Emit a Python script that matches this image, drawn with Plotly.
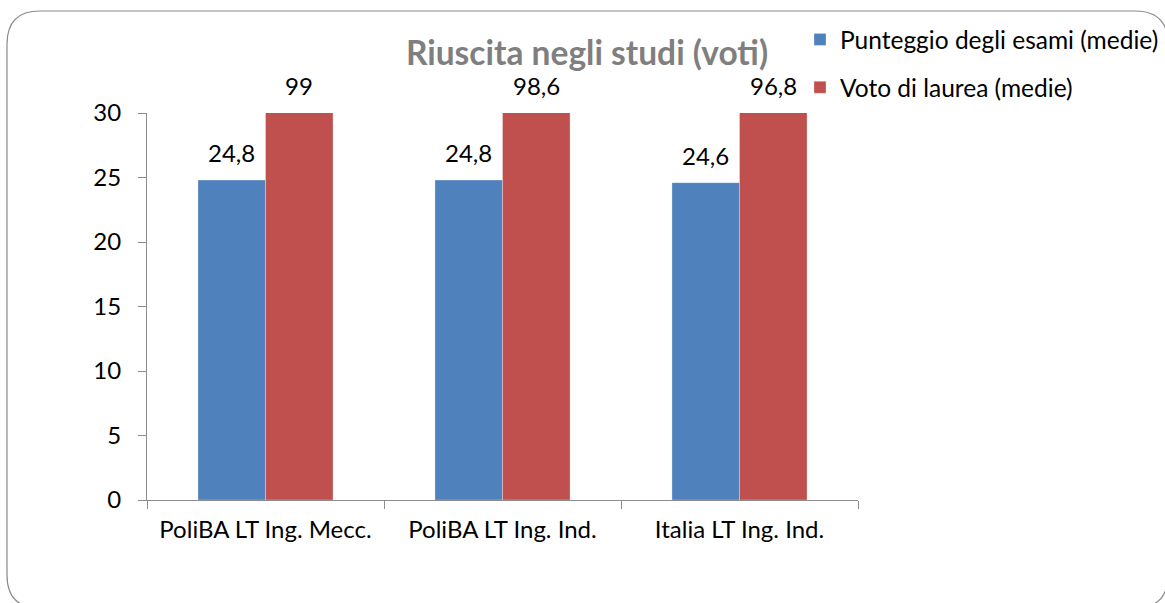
import plotly.graph_objects as go

# Data
categories = ["PoliBA LT Ing. Mecc.", "PoliBA LT Ing. Ind.", "Italia LT Ing. Ind."]
esami = [24.8, 24.8, 24.6]
laurea = [99, 98.6, 96.8]
series_names = ["Punteggio degli esami (medie)", "Voto di laurea (medie)"]
y_max = 30
y_step = 5

W, H = 1165, 603
L, R, T, B = 147, 307, 113, 103
PW, PH = W - L - R, H - T - B
BARGAP = 0.43

FONT = "Lato"
FS = 24
BLUE = "#4F81BD"
RED = "#C0504D"
AXIS = "#8C8C8C"


def fmt(v):
    return f"{v:g}".replace(".", ",")


def px_x(p):
    return (p - L) / PW


def px_y(p):
    return (H - B - p) / PH


fig = go.Figure()
for i, (vals, name, color) in enumerate(zip([esami, laurea], series_names, [BLUE, RED])):
    fig.add_bar(
        x=categories, y=vals, name=name, legendgroup=f"g{i}",
        marker=dict(color=color, line=dict(color="rgba(255,255,255,0.5)", width=0.6)),
    )

# Value labels sit on top of the visible (possibly clipped) bar
bar_px = PW / len(categories) * (1 - BARGAP) / 2
annotations = []
for side, vals in zip([-1, 1], [esami, laurea]):
    for c, v in zip(categories, vals):
        annotations.append(dict(
            x=c, y=min(v, y_max), xref="x", yref="y",
            xshift=side * bar_px / 2, yshift=11,
            text=fmt(v), showarrow=False, yanchor="bottom",
            font=dict(family=FONT, size=FS, color="black"),
        ))

# Rounded chart frame
x0, y0, x1, y1, r = px_x(7), px_y(11), px_x(1168), px_y(608), 33
rx, ry = r / PW, r / PH
frame = (
    f"M {x0},{y1 + ry} L {x0},{y0 - ry} Q {x0},{y0} {x0 + rx},{y0} "
    f"L {x1 - rx},{y0} Q {x1},{y0} {x1},{y0 - ry} "
    f"L {x1},{y1 + ry} Q {x1},{y1} {x1 - rx},{y1} "
    f"L {x0 + rx},{y1} Q {x0},{y1} {x0},{y1 + ry} Z"
)

fig.update_layout(
    width=W, height=H,
    margin=dict(l=L, r=R, t=T, b=B, autoexpand=False),
    paper_bgcolor="white", plot_bgcolor="white",
    separators=",.",
    barmode="group", bargap=BARGAP, bargroupgap=0,
    title=dict(
        text="<b>Riuscita negli studi (voti)</b>",
        x=587 / W, xanchor="center",
        y=1 - 53 / H, yanchor="middle",
        font=dict(family=FONT, size=33.5, color="#7F7F7F"),
    ),
    legend=dict(
        x=px_x(800), y=px_y(17), xanchor="left", yanchor="top",
        font=dict(family=FONT, size=24.5, color="black"),
        traceorder="grouped", tracegroupgap=13, itemwidth=30,
        bgcolor="rgba(0,0,0,0)",
    ),
    showlegend=True,
    annotations=annotations,
    shapes=[dict(type="path", path=frame, xref="paper", yref="paper",
                 line=dict(color="#8A8A8A", width=1.2), layer="below")],
    font=dict(family=FONT, size=FS, color="black"),
)

fig.update_xaxes(
    type="category", showline=True, linecolor=AXIS, linewidth=1.2,
    ticks="outside", tickson="boundaries", ticklen=8, tickcolor=AXIS,
    tickfont=dict(family=FONT, size=FS, color="black"),
    showgrid=False, zeroline=False, ticklabelstandoff=8,
)
fig.update_yaxes(
    range=[0, y_max], dtick=y_step, tick0=0,
    showline=True, linecolor=AXIS, linewidth=1.2,
    ticks="outside", ticklen=8, tickcolor=AXIS,
    tickfont=dict(family=FONT, size=FS, color="black"),
    showgrid=False, zeroline=False, ticklabelstandoff=12,
)

fig.write_html("out.html")
